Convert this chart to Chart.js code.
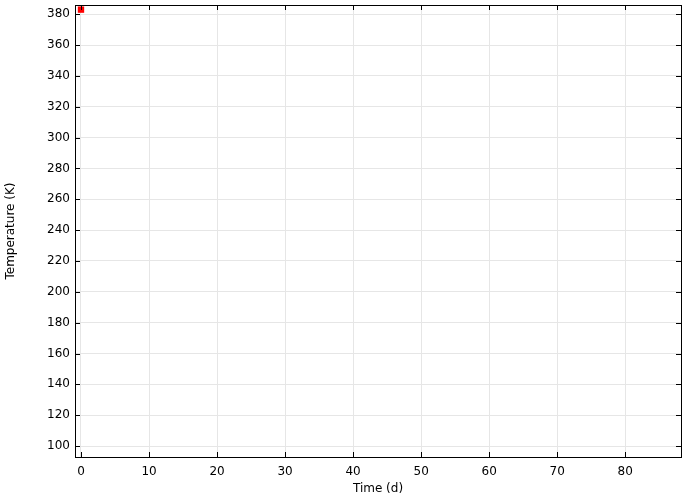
<!DOCTYPE html>
<html>
<head>
<meta charset="utf-8">
<script src="https://cdn.jsdelivr.net/npm/chart.js@4/dist/chart.umd.min.js"></script>
<style>
  html, body { margin: 0; padding: 0; background: #fff; }
  #wrap { width: 687px; height: 499px; }
</style>
</head>
<body>
<div id="wrap"><canvas id="chart"></canvas></div>
<script>
// data
var timeDays = [0];
var temperatureK = [383];
var xTicks = [0, 10, 20, 30, 40, 50, 60, 70, 80];
var yTicks = [100, 120, 140, 160, 180, 200, 220, 240, 260, 280, 300, 320, 340, 360, 380];

var points = timeDays.map(function (t, i) { return { x: t, y: temperatureK[i] }; });

// frame around the plot and inward ticks on all four sides
var frameTicks = {
    id: 'frameTicks',
    afterDraw: function (chart) {
        var ctx = chart.ctx;
        var a = chart.chartArea;
        var xs = chart.scales.x;
        var ys = chart.scales.y;
        var len = 5;
        ctx.save();
        ctx.strokeStyle = '#000';
        ctx.lineWidth = 1;
        ctx.beginPath();
        xTicks.forEach(function (v) {
            var px = Math.round(xs.getPixelForValue(v)) + 0.5;
            ctx.moveTo(px, a.bottom);
            ctx.lineTo(px, a.bottom - len);
            ctx.moveTo(px, a.top);
            ctx.lineTo(px, a.top + len);
        });
        yTicks.forEach(function (v) {
            var py = Math.round(ys.getPixelForValue(v)) + 0.5;
            ctx.moveTo(a.left, py);
            ctx.lineTo(a.left + len, py);
            ctx.moveTo(a.right, py);
            ctx.lineTo(a.right - len, py);
        });
        ctx.stroke();
        ctx.strokeRect(Math.round(a.left) + 0.5, Math.round(a.top) + 0.5,
            Math.round(a.right - a.left), Math.round(a.bottom - a.top));
        ctx.restore();
    }
};

function keepTicks(list) {
    return function (scale) {
        scale.ticks = list.map(function (v) { return { value: v }; });
    };
}

Chart.defaults.font.family = '"DejaVu Sans", sans-serif';
Chart.defaults.font.size = 12;
Chart.defaults.color = '#000';

new Chart(document.getElementById('chart'), {
    type: 'scatter',
    data: {
        datasets: [{
            label: 'Temperature',
            data: points,
            pointStyle: 'rect',
            pointRadius: 4.5,
            pointHoverRadius: 4.5,
            backgroundColor: '#ff0000',
            borderWidth: 0,
            showLine: false
        }]
    },
    options: {
        responsive: true,
        maintainAspectRatio: false,
        animation: false,
        layout: { padding: { top: 5, right: 6, left: 0, bottom: 0 } },
        plugins: {
            legend: { display: false },
            tooltip: { enabled: false }
        },
        scales: {
            x: {
                type: 'linear',
                min: -0.88,
                max: 88.2,
                afterBuildTicks: keepTicks(xTicks),
                afterFit: function (scale) {
                    scale.height = 42;
                    scale.paddingLeft = 0;
                    scale.paddingRight = 0;
                },
                grid: { color: '#e6e6e6', drawTicks: false },
                border: { display: false },
                ticks: { padding: 8, maxRotation: 0 },
                title: { display: true, text: 'Time (d)', padding: { top: 0, bottom: 3 } }
            },
            y: {
                type: 'linear',
                min: 92.9,
                max: 386,
                afterBuildTicks: keepTicks(yTicks),
                afterFit: function (scale) {
                    scale.width = 75;
                    scale.paddingTop = 0;
                    scale.paddingBottom = 0;
                },
                grid: { color: '#e6e6e6', drawTicks: false },
                border: { display: false },
                ticks: { padding: 5 },
                title: { display: true, text: 'Temperature (K)', padding: { top: 4, bottom: 0 } }
            }
        }
    },
    plugins: [frameTicks]
});
</script>
</body>
</html>
